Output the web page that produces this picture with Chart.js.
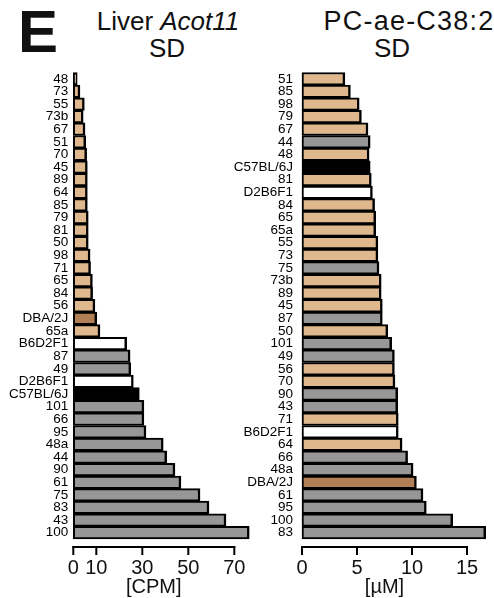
<!DOCTYPE html>
<html>
<head>
<meta charset="utf-8">
<script src="https://cdn.jsdelivr.net/npm/chart.js@4.4.1/dist/chart.umd.min.js"></script>
<style>
  html, body { margin: 0; padding: 0; background: #fff; }
  body { width: 494px; height: 598px; position: relative; overflow: hidden; font-family: 'Liberation Sans', Arial, sans-serif; color: #111; }
  canvas { position: absolute; top: 0; }
  .txt { position: absolute; text-align: center; white-space: nowrap; }
</style>
</head>
<body>
<div class="txt" style="left:18px;top:2px;font-size:60px;line-height:60px;font-weight:bold;text-align:left;">E</div>
<div class="txt" style="left:68px;width:200px;top:8px;font-size:26px;line-height:26px;">Liver <i>Acot11</i></div>
<div class="txt" style="left:67px;width:200px;top:35px;font-size:26px;line-height:26px;">SD</div>
<div class="txt" style="left:309px;width:200px;top:8px;font-size:27px;line-height:27px;letter-spacing:1.2px;">PC-ae-C38:2</div>
<div class="txt" style="left:292px;width:200px;top:35px;font-size:26px;line-height:26px;">SD</div>

<canvas id="left-chart" width="264" height="598" style="left:0px"></canvas>
<canvas id="right-chart" width="277" height="598" style="left:220px"></canvas>

<script>
// Liver Acot11 expression, SD diet
const leftLabels = ['48', '73', '55', '73b', '67', '51', '70', '45', '89', '64', '85', '79', '81', '50', '98', '71', '65', '84', '56', 'DBA/2J', '65a',
    'B6D2F1', '87', '49', 'D2B6F1', 'C57BL/6J', '101', '66', '95', '48a', '44', '90', '61', '75', '83', '43', '100'];
const leftValues = [1.7, 2.9, 4.8, 4.3, 5.1, 5.4, 5.8, 6.1, 6.1, 6.1, 6.1, 6.5, 6.5, 6.5, 7.3, 7.5, 8.3, 8.4, 9.4, 10.2, 11.6,
    23.2, 24.7, 25, 26.1, 28.7, 30.7, 30.7, 31.6, 39.1, 40.6, 44.2, 46.8, 55.1, 59, 66.4, 76.5];
const leftTicks = [0, 10, 30, 50, 70];

// PC-ae-C38:2, SD diet
const rightLabels = ['51', '85', '98', '79', '67', '44', '48', 'C57BL/6J', '81', 'D2B6F1', '84', '65', '65a', '55', '73', '75', '73b', '89', '45', '87',
    '50', '101', '49', '56', '70', '90', '43', '71', 'B6D2F1', '64', '66', '48a', 'DBA/2J', '61', '95', '100', '83'];
const rightValues = [3.9, 4.4, 5.2, 5.4, 6.0, 6.2, 6.1, 6.2, 6.3, 6.4, 6.6, 6.7, 6.7, 6.9, 6.9, 7.0, 7.2, 7.2, 7.3, 7.3,
    7.8, 8.15, 8.4, 8.4, 8.45, 8.7, 8.7, 8.75, 8.75, 9.1, 9.6, 10.1, 10.4, 11.0, 11.3, 13.7, 16.7];
const rightTicks = [0, 5, 10, 15];

// strains drawn in tan, the other BXD lines are gray
const tanStrains = ['45', '48', '50', '51', '55', '56', '64', '65', '65a', '67', '70', '71', '73', '73b', '79', '81', '84', '85', '89', '98'];

function strainColor(name) {
    if (name === 'DBA/2J') return '#b07f56';
    if (name === 'C57BL/6J') return '#000000';
    if (name === 'B6D2F1' || name === 'D2B6F1') return '#ffffff';
    if (tanStrains.includes(name)) return '#dfb98d';
    return '#979797';
}

// axis line with downward ticks, sitting a little below the bars
const axisLine = {
    id: 'axisLine',
    afterDraw(chart) {
        const ctx = chart.ctx;
        const xs = chart.scales.x;
        const yLine = chart.chartArea.bottom + 8;
        ctx.save();
        ctx.strokeStyle = '#000';
        ctx.lineWidth = 2;
        ctx.beginPath();
        ctx.moveTo(xs.getPixelForValue(xs.min) - 1, yLine);
        ctx.lineTo(xs.getPixelForValue(xs.max) + 1, yLine);
        ctx.stroke();
        xs.ticks.forEach(t => {
            const px = xs.getPixelForValue(t.value);
            ctx.beginPath();
            ctx.moveTo(px, yLine - 1);
            ctx.lineTo(px, yLine + 8);
            ctx.stroke();
        });
        ctx.restore();
    }
};

function makeChart(id, labels, values, tickValues, maxVal, unit, yWidth, labelPad, padRight) {
    const ctx = document.getElementById(id).getContext('2d');
    return new Chart(ctx, {
        type: 'bar',
        data: {
            labels: labels,
            datasets: [{
                data: values,
                backgroundColor: labels.map(strainColor),
                borderColor: '#000',
                borderWidth: { top: 2, bottom: 2, left: 2, right: 2.5 },
                borderSkipped: false,
                barPercentage: 1,
                categoryPercentage: 1,
                clip: false
            }]
        },
        options: {
            indexAxis: 'y',
            responsive: false,
            animation: false,
            layout: { padding: { top: 72.5, right: padRight, bottom: 0, left: 0 } },
            plugins: { legend: { display: false }, tooltip: { enabled: false } },
            scales: {
                x: {
                    min: 0,
                    max: maxVal,
                    afterBuildTicks: scale => { scale.ticks = tickValues.map(v => ({ value: v })); },
                    afterFit: scale => { scale.height = 59; },
                    grid: { display: false, drawTicks: false },
                    border: { display: false },
                    ticks: {
                        color: '#111',
                        padding: 17,
                        font: { family: "'Liberation Sans', Arial, sans-serif", size: 20 }
                    },
                    title: {
                        display: true,
                        text: unit,
                        color: '#111',
                        padding: { top: 0, bottom: -1.5 },
                        font: { family: "'Liberation Sans', Arial, sans-serif", size: 20 }
                    }
                },
                y: {
                    afterFit: scale => { scale.width = yWidth; },
                    grid: { display: false, drawTicks: false },
                    border: { display: false },
                    ticks: {
                        autoSkip: false,
                        color: '#000',
                        padding: labelPad,
                        font: { family: "'Liberation Sans', Arial, sans-serif", size: 13.5 }
                    }
                }
            }
        },
        plugins: [axisLine]
    });
}

// right padding is kept above label half-width + tick padding so Chart.js does not widen it
makeChart('left-chart', leftLabels, leftValues, leftTicks, 70, '[CPM]', 73.3, 5, 29.7);
makeChart('right-chart', rightLabels, rightValues, rightTicks, 15, '[\u00b5M]', 82, 9, 30);
</script>
</body>
</html>
